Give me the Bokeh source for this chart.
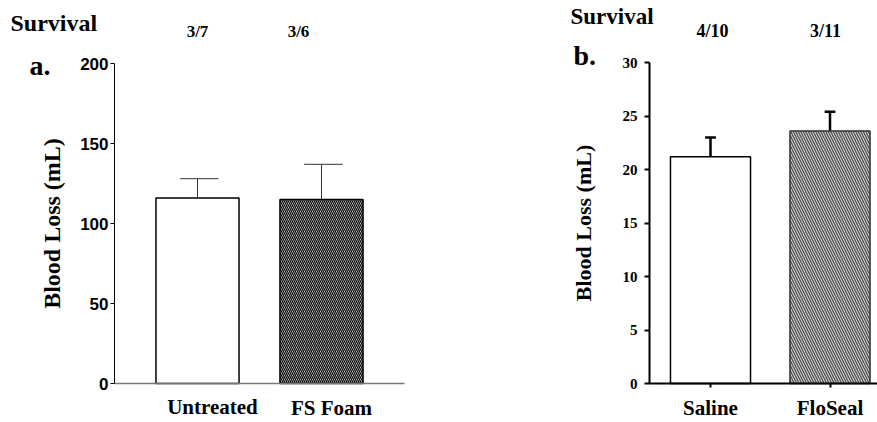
from bokeh.plotting import figure
from bokeh.models import Range1d, FixedTicker, Label
from bokeh.layouts import row
from bokeh.embed import file_html
from bokeh.resources import INLINE

# ---------------- data ----------------
left_groups = ["Untreated", "FS Foam"]
left_means = [116.0, 115.0]
left_sem = [12.0, 22.0]
left_survival = ["3/7", "3/6"]
left_yticks = [0, 50, 100, 150, 200]

right_groups = ["Saline", "FloSeal"]
right_means = [21.2, 23.6]
right_sem = [1.8, 1.8]
right_survival = ["4/10", "3/11"]
right_yticks = [0, 5, 10, 15, 20, 25, 30]

SERIF = "Liberation Serif"
SANS = "Liberation Sans"
H = 422
BASELINE_FIX = 8  # Bokeh draws alphabetic-baseline labels a little low


class Geom:
    """Maps page pixels to data coordinates for one panel."""
    def __init__(self, left, width, x1_px, x2_px, y0_px, ytop_px, ytop_val):
        self.left, self.width = left, width
        self.x1_px, self.sx = x1_px, (x2_px - x1_px)
        self.y0_px, self.sy = y0_px, (y0_px - ytop_px) / ytop_val

    def x(self, px):
        return 1 + (px - self.x1_px) / self.sx

    def y(self, py):
        return (self.y0_px - py) / self.sy

    def ranges(self):
        return (Range1d(self.x(self.left), self.x(self.left + self.width)),
                Range1d(self.y(H), self.y(0)))


def label(p, g, px, py, text, size, align="center", font=SERIF):
    p.add_layout(Label(x=g.x(px), y=g.y(py - BASELINE_FIX), text=text,
                       text_font=font, text_font_style="bold",
                       text_font_size=size, text_align=align,
                       text_baseline="alphabetic", text_color="black"))


def base_fig(g):
    xr, yr = g.ranges()
    p = figure(width=g.width, height=H, x_range=xr, y_range=yr, title=None,
               output_backend="svg", toolbar_location=None,
               min_border=0, min_border_left=0, min_border_right=0,
               min_border_top=0, min_border_bottom=0)
    p.outline_line_color = None
    p.xgrid.visible = False
    p.ygrid.visible = False
    p.background_fill_color = "white"
    p.border_fill_color = "white"
    return p


def style_yaxis(ax, ticks, font, fsize, lsize, standoff, lw, tick_out, lab_standoff):
    ax.ticker = FixedTicker(ticks=ticks)
    ax.axis_label = "Blood Loss (mL)"
    ax.axis_label_text_font = SERIF
    ax.axis_label_text_font_style = "bold"
    ax.axis_label_text_font_size = lsize
    ax.axis_label_text_color = "black"
    ax.axis_label_standoff = standoff
    ax.major_label_text_font = font
    ax.major_label_text_font_style = "bold"
    ax.major_label_text_font_size = fsize
    ax.major_label_text_color = "black"
    ax.major_label_standoff = lab_standoff
    ax.major_tick_out = tick_out
    ax.major_tick_in = 0
    ax.minor_tick_line_color = None
    ax.axis_line_color = "black"
    ax.axis_line_width = lw
    ax.major_tick_line_width = lw
    ax.major_tick_line_color = "black"


# ---------------- panel a ----------------
ga = Geom(left=0, width=438, x1_px=197, x2_px=321, y0_px=383, ytop_px=63, ytop_val=200)
xs_a = [1, 2]
pa = base_fig(ga)
yax = pa.yaxis[0]
yax.fixed_location = ga.x(114)
yax.bounds = (0, 200)
style_yaxis(yax, left_yticks, SANS, "17px", "24px", 12, 1, 4, 2)

xax = pa.xaxis[0]
xax.fixed_location = 0
xax.bounds = (ga.x(114), ga.x(404))
xax.ticker = FixedTicker(ticks=[])
xax.major_tick_line_color = None
xax.minor_tick_line_color = None
xax.axis_line_color = "#777777"
xax.axis_line_width = 1.5

tops_a = [m + s for m, s in zip(left_means, left_sem)]
pa.segment(x0=xs_a, y0=left_means, x1=xs_a, y1=tops_a, line_color="#333333", line_width=1)
pa.segment(x0=[x - 0.14 for x in xs_a], y0=tops_a, x1=[x + 0.17 for x in xs_a], y1=tops_a,
           line_color="#333333", line_width=1)
pa.vbar(x=xs_a[:1], top=left_means[:1], width=0.67, bottom=0,
        fill_color="white", line_color="black", line_width=1.5)
pa.vbar(x=xs_a[1:], top=left_means[1:], width=0.67, bottom=0,
        fill_color="white", line_color="black", line_width=1.5,
        hatch_pattern="left_diagonal_line", hatch_scale=4, hatch_weight=1.3,
        hatch_color="black")

label(pa, ga, 10, 30, "Survival", "24px", align="left")
for s, cx in zip(left_survival, [197, 298]):
    label(pa, ga, cx, 39, s, "17px")
label(pa, ga, 29, 73, "a.", "28px", align="left")
for gname, cx, by in zip(left_groups, [212, 331], [414, 415]):
    label(pa, ga, cx, by, gname, "21px")

# ---------------- panel b ----------------
gb = Geom(left=438, width=439, x1_px=710, x2_px=829.5, y0_px=383, ytop_px=62, ytop_val=30)
xs_b = [1, 2]
pb = base_fig(gb)
yb = pb.yaxis[0]
yb.fixed_location = gb.x(649)
yb.bounds = (0, 30)
style_yaxis(yb, right_yticks, SERIF, "15px", "22px", 24, 2, 5, 7)

xb = pb.xaxis[0]
xb.fixed_location = 0
xb.bounds = (gb.x(649), gb.x(877))
xb.ticker = FixedTicker(ticks=xs_b)
xb.major_label_overrides = {x: gname for x, gname in zip(xs_b, right_groups)}
xb.major_label_text_font = SERIF
xb.major_label_text_font_style = "bold"
xb.major_label_text_font_size = "21px"
xb.major_label_text_color = "black"
xb.major_label_standoff = 8
xb.major_tick_out = 4
xb.major_tick_in = 0
xb.major_tick_line_width = 2
xb.major_tick_line_color = "black"
xb.minor_tick_line_color = None
xb.axis_line_color = "black"
xb.axis_line_width = 2

tops_b = [m + s for m, s in zip(right_means, right_sem)]
pb.segment(x0=xs_b, y0=right_means, x1=xs_b, y1=tops_b, line_color="black", line_width=2.5)
pb.segment(x0=[x - 0.045 for x in xs_b], y0=tops_b, x1=[x + 0.045 for x in xs_b], y1=tops_b,
           line_color="black", line_width=2.5)
pb.vbar(x=xs_b[:1], top=right_means[:1], width=0.67, bottom=0,
        fill_color="white", line_color="black", line_width=1.5)
pb.vbar(x=xs_b[1:], top=right_means[1:], width=0.67, bottom=0,
        fill_color="white", line_color="#333333", line_width=1.5,
        hatch_pattern="left_diagonal_line", hatch_scale=5, hatch_weight=1.6,
        hatch_color="#555555")

label(pb, gb, 570, 24, "Survival", "23px", align="left")
for s, cx in zip(right_survival, [712, 825]):
    label(pb, gb, cx, 38, s, "18px")
label(pb, gb, 573, 63, "b.", "28px", align="left")

layout = row(pa, pb)
open("out.html", "w").write(file_html(layout, INLINE))
